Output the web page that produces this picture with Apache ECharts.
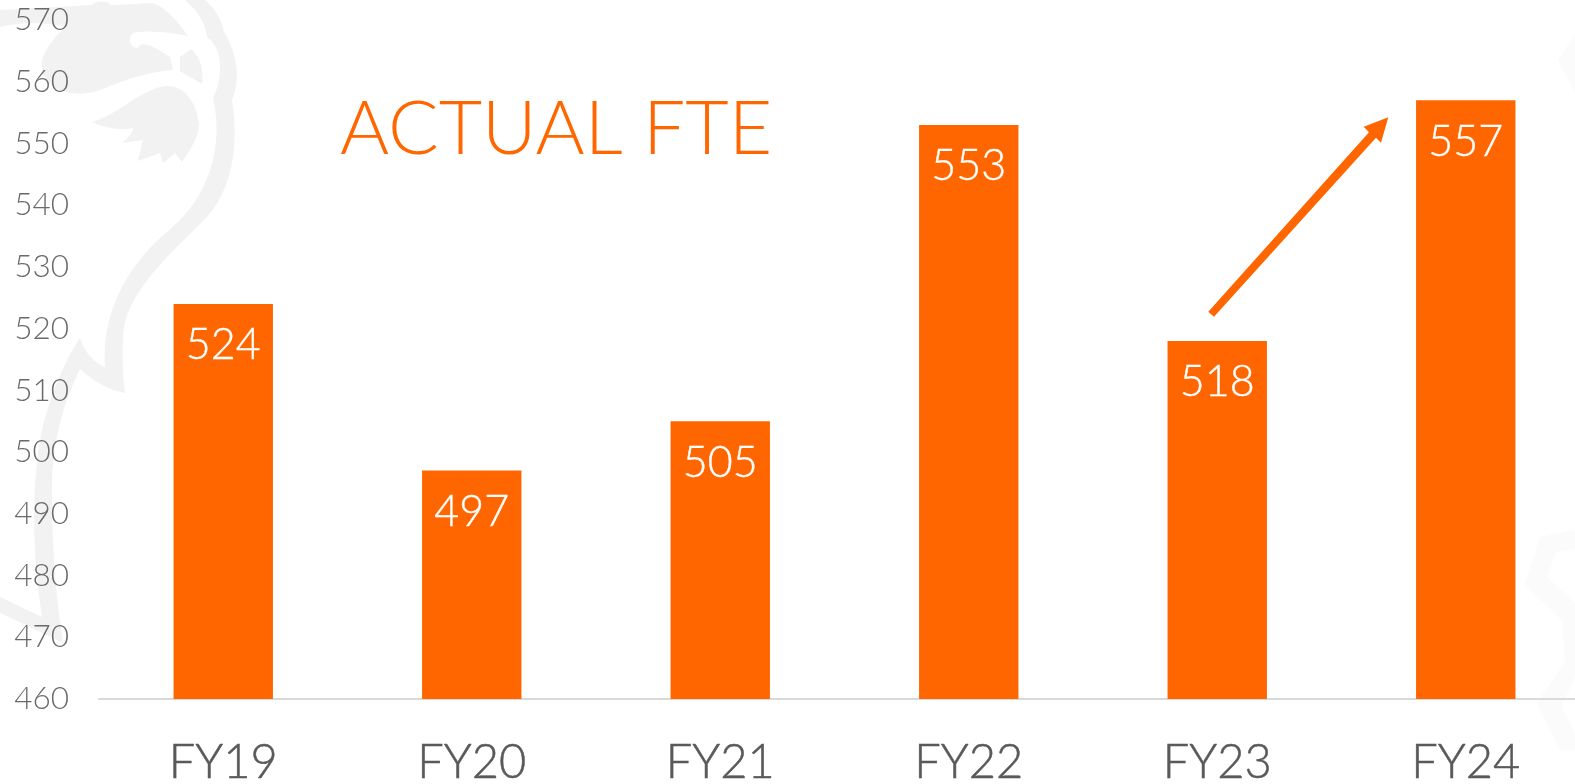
<!DOCTYPE html>
<html>
<head>
<meta charset="utf-8">
<style>html,body{margin:0;padding:0;background:#fff}#c{width:1575px;height:784px}</style>
<script src="https://cdn.jsdelivr.net/npm/echarts@6/dist/echarts.min.js"></script>
</head>
<body>
<div id="c"></div>
<script>
const categories = ['FY19', 'FY20', 'FY21', 'FY22', 'FY23', 'FY24'];
const fteValues = [524, 497, 505, 553, 518, 557];
const axisMin = 460, axisMax = 570, axisStep = 10;
const chartTitle = 'ACTUAL FTE';

const ORANGE = '#ff6600';
const wmark = '#f2f2f2', wmarkFaint = '#fbfbfb';
const FONT = 'Lato';

// flatten "M/L/C" outline strings of the decorative watermark to polygon points
function outline(d) {
  const pts = []; let cur = null;
  d.match(/[MLC][^MLCZ]*/g).forEach(function (seg) {
    const n = seg.slice(1).trim().split(/[\s,]+/).map(Number);
    if (seg[0] === 'C') {
      for (let i = 0; i + 5 < n.length; i += 6) {
        for (let k = 1; k <= 14; k++) {
          const t = k / 14, u = 1 - t;
          pts.push([
            u*u*u*cur[0] + 3*u*u*t*n[i] + 3*u*t*t*n[i+2] + t*t*t*n[i+4],
            u*u*u*cur[1] + 3*u*u*t*n[i+1] + 3*u*t*t*n[i+3] + t*t*t*n[i+5]
          ]);
        }
        cur = [n[i+4], n[i+5]];
      }
    } else {
      cur = [n[0], n[1]]; pts.push(cur);
    }
  });
  return pts;
}
const decor = (d, fill) => ({type: 'polygon', silent: true, z: -1, style: {fill: fill}, shape: {points: outline(d)}});

const chart = echarts.init(document.getElementById('c'), null, {renderer: 'canvas'});
chart.setOption({
  animation: false,
  backgroundColor: '#ffffff',
  title: {
    text: chartTitle, left: 340, top: 92, padding: 0, z: 5,
    textStyle: {color: ORANGE, fontFamily: FONT, fontWeight: 300, fontSize: 75}
  },
  grid: {left: 99, width: 1491, top: 20, height: 679, outerBoundsMode: 'none', containLabel: false},
  xAxis: {
    type: 'category', data: categories,
    axisTick: {show: false},
    axisLine: {lineStyle: {color: '#d9d9d9', width: 2}},
    axisLabel: {color: '#595959', fontFamily: FONT, fontWeight: 300, fontSize: 47, margin: 40, interval: 0, textBorderColor: '#595959', textBorderWidth: 0.5}
  },
  yAxis: {
    type: 'value', min: axisMin, max: axisMax, interval: axisStep, z: 3,
    splitLine: {show: false}, axisLine: {show: false}, axisTick: {show: false},
    axisLabel: {color: '#6a6a6a', fontFamily: FONT, fontWeight: 300, fontSize: 31.5, margin: 30, hideOverlap: false, showMinLabel: true, showMaxLabel: true}
  },
  series: [{
    type: 'bar', data: fteValues, barWidth: '40%', z: 4,
    itemStyle: {color: ORANGE},
    label: {show: true, position: 'insideTop', distance: 20, color: '#ffffff', fontFamily: FONT, fontWeight: 300, fontSize: 43, textBorderColor: '#ffffff', textBorderWidth: 0.4}
  }],
  graphic: {elements: [
    decor('M0,10 L92,5 C96,0 110,0 113,8 C108,12 100,10 98,6 L150,3 C160,3 170,14 180,25 L188,36 C170,32 145,30 133,33 C127,38 130,48 138,48 C140,42 148,42 170,57 L173,70 C150,72 130,78 105,88 C90,95 70,96 55,88 C45,80 40,70 42,60 C47,45 60,30 67,27 C45,22 20,22 0,27', wmark),
    decor('M180,57 L191,49 C200,56 204,70 202,84 L180,71', wmark),
    decor('M92,122 C105,118 118,110 130,102 C145,92 160,85 170,86 C185,88 195,100 199,123 C199,135 192,148 182,162 L175,153 L163,163 L160,153 L138,161 L143,140 L122,143 C128,138 133,133 133,128 C120,131 105,128 92,122', wmark),
    decor('M185,0 L205,0 C217,10 222,22 224,32 C235,50 242,75 232,100 C238,140 235,185 207,217 C180,245 125,290 123,335 C122,360 123,380 125,393 C108,390 92,380 80,369 C62,405 50,450 52,500 C52,560 58,610 63,643 C40,632 20,622 0,613 L0,597 L42,617 C33,560 30,490 42,430 C50,395 65,360 80,338 C84,350 92,362 105,367 C102,330 115,290 140,260 C150,245 170,230 180,220 C205,195 225,150 213,98 C222,80 225,50 207,37 C205,22 197,10 185,0', wmark),
    decor('M1575,530 L1540,537 L1525,585 L1562,620 L1565,662 L1537,703 L1560,750 L1575,750 L1575,733 L1561,707 L1575,677 L1575,603 L1547,577 L1556,552 L1575,549', wmarkFaint),
    decor('M1575,35 L1558,60 L1575,92', wmarkFaint),
    {type: 'polygon', silent: true, z: 100, style: {fill: ORANGE}, shape: {points: [
      [1208.3,311.7],[1369,132.3],[1363.7,126.7],[1388.3,117.3],[1381,142.7],[1376,137.7],[1214,316.7]
    ]}}
  ]}
});
</script>
</body>
</html>
